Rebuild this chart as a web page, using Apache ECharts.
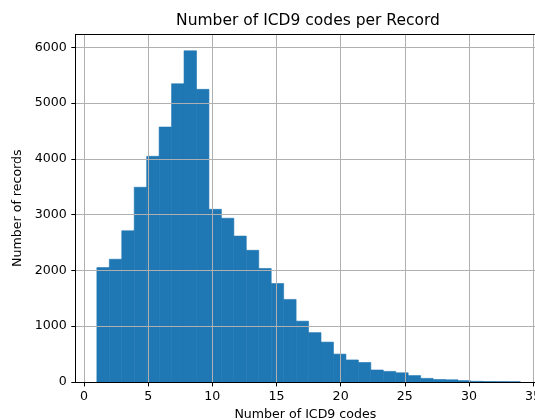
<!DOCTYPE html>
<html>
<head>
<meta charset="utf-8">
<script src="https://cdn.jsdelivr.net/npm/echarts@6/dist/echarts.min.js"></script>
<style>
html,body{margin:0;padding:0;background:#fff;}
#c{width:535px;height:420px;}
</style>
</head>
<body>
<div id="c"></div>
<script>
// Number of ICD9 codes per record (histogram, 34 bins over 1..34)
const codes = [1,2,3,4,5,6,7,8,9,10,11,12,13,14,15,16,17,18,19,20,21,22,23,24,25,26,27,28,29,30,31,32,33,34];
const records = [2050,2200,2710,3490,4045,4570,5345,5935,5245,3095,2935,2615,2360,2035,1765,1480,1090,885,715,500,395,350,215,190,165,115,65,45,40,25,12,8,6,5];
const xTickValues = [0,5,10,15,20,25,30,35];
const yTickValues = [0,1000,2000,3000,4000,5000,6000];

const title = 'Number of ICD9 codes per Record';
const xName = 'Number of ICD9 codes';
const yName = 'Number of records';

// histogram binning: bins spanning min..max of the codes
const nBins = codes.length;
const lo = Math.min(...codes), hi = Math.max(...codes);
const binW = (hi - lo) / nBins;
const histData = records.map((r, i) => [lo + i * binW, lo + (i + 1) * binW, r]);

// matplotlib-like 5% margins; the figure is cropped on the right edge
const xPad = (hi - lo) * 0.05;
const xViewMax = 35.15;
const yMax = Math.max(...records) * 1.05;

const font = 'DejaVu Sans';
const chart = echarts.init(document.getElementById('c'), null, {renderer: 'canvas'});
chart.setOption({
  animation: false,
  backgroundColor: '#fff',
  title: {
    text: title,
    left: 303,
    textAlign: 'center',
    top: 8,
    textStyle: {fontFamily: font, fontSize: 15.5, fontWeight: 'normal', color: '#000'}
  },
  grid: {
    left: 75.7, top: 34.3, right: 0, bottom: 38,
    show: false, containLabel: false, outerBoundsMode: 'none'
  },
  xAxis: [{
    type: 'value',
    min: lo - xPad,
    max: xViewMax,
    name: xName,
    nameLocation: 'middle',
    nameGap: 26,
    nameTextStyle: {fontFamily: font, fontSize: 12.6, color: '#000'},
    axisLine: {show: true, onZero: false, lineStyle: {color: '#000', width: 1}},
    axisTick: {show: true, inside: false, length: 4.4, customValues: xTickValues, lineStyle: {color: '#000', width: 1}},
    axisLabel: {customValues: xTickValues, margin: 8, fontFamily: font, fontSize: 12.6, color: '#000',
      formatter: v => String(v)},
    splitLine: {show: true, lineStyle: {color: '#b0b0b0', width: 1}}
  }, {
    type: 'value',
    position: 'top',
    min: lo - xPad,
    max: xViewMax,
    axisLine: {show: true, onZero: false, lineStyle: {color: '#000', width: 1}},
    axisTick: {show: false},
    axisLabel: {show: false},
    splitLine: {show: false}
  }],
  yAxis: {
    type: 'value',
    min: 0,
    max: yMax,
    name: yName,
    nameLocation: 'middle',
    nameGap: 41,
    nameTextStyle: {fontFamily: font, fontSize: 12.6, color: '#000'},
    axisLine: {show: true, onZero: false, lineStyle: {color: '#000', width: 1}},
    axisTick: {show: true, inside: false, length: 4.4, customValues: yTickValues, lineStyle: {color: '#000', width: 1}},
    axisLabel: {customValues: yTickValues, margin: 9, fontFamily: font, fontSize: 12.6, color: '#000',
      formatter: v => String(v)},
    splitLine: {show: true, lineStyle: {color: '#b0b0b0', width: 1}}
  },
  series: [{
    type: 'custom',
    z: -1,
    xAxisIndex: 0,
    data: histData,
    encode: {x: [0, 1], y: 2},
    renderItem: function (params, api) {
      const p0 = api.coord([api.value(0), api.value(2)]);
      const p1 = api.coord([api.value(1), 0]);
      return {
        type: 'rect',
        shape: {x: p0[0], y: p0[1], width: p1[0] - p0[0], height: p1[1] - p0[1]},
        style: {fill: '#1f77b4', stroke: '#1f77b4', lineWidth: 0.6}
      };
    }
  }]
});
</script>
</body>
</html>
